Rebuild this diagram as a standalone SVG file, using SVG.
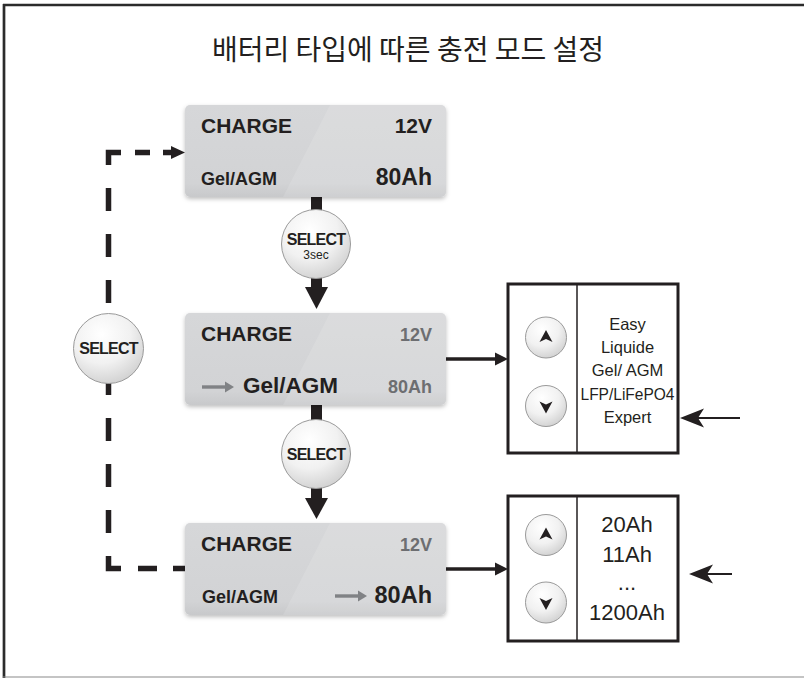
<svg xmlns="http://www.w3.org/2000/svg" width="804" height="678" viewBox="0 0 804 678">
<style>
text{font-family:"Liberation Sans",Arial,sans-serif;fill:#231f20}
.title{font-family:"Noto Sans CJK KR","Noto Sans",sans-serif;font-size:28px;text-anchor:middle}
.b{font-weight:bold}
.big{font-size:21px;font-weight:bold}
.r{text-anchor:end}
.g{fill:#6d6e71}
.c{text-anchor:middle}
.sel{font-size:16px;font-weight:bold;text-anchor:middle;letter-spacing:-0.8px}
.lst{font-size:16.5px;text-anchor:middle}
.ah{font-size:22px;text-anchor:middle}
.panel{fill:url(#pg);filter:url(#sh)}
.gloss{fill:#fff;opacity:0.12}
.btn{fill:url(#cg);stroke:#9a9a9a;stroke-width:1}
.box{fill:#fff;stroke:#231f20;stroke-width:3}
.div{stroke:#231f20;stroke-width:1.5}
.dash{fill:none;stroke:#231f20;stroke-width:5.5;stroke-linecap:butt}
.ink{fill:#231f20}
.garr{fill:#808285}
</style>
<defs>
<linearGradient id="pg" x1="0" y1="0" x2="0" y2="1">
<stop offset="0" stop-color="#d6d7d9"/>
<stop offset="0.85" stop-color="#d2d3d5"/>
<stop offset="1" stop-color="#c8c9cb"/>
</linearGradient>
<radialGradient id="cg" cx="0.4" cy="0.3" r="0.75">
<stop offset="0" stop-color="#ffffff"/>
<stop offset="0.55" stop-color="#f1f1f1"/>
<stop offset="1" stop-color="#cfcfcf"/>
</radialGradient>
<filter id="sh" x="-10%" y="-10%" width="120%" height="130%">
<feDropShadow dx="0" dy="2" stdDeviation="2" flood-color="#000" flood-opacity="0.25"/>
</filter>
<clipPath id="pc"><rect x="0" y="0" width="261" height="92" rx="5"/></clipPath>
</defs>
<rect x="0" y="0" width="804" height="678" fill="#fff"/>
<g id="frame">
<line x1="3" y1="5" x2="804" y2="5" stroke="#2b2b2b" stroke-width="2.5"/>
<line x1="4" y1="4" x2="4" y2="678" stroke="#2b2b2b" stroke-width="2.7"/>
<line x1="3" y1="677" x2="804" y2="677" stroke="#8a8a8a" stroke-width="1.2"/>
</g>
<text class="title" x="408" y="60">배터리 타입에 따른 충전 모드 설정</text>

<g id="connectors">
<rect x="311" y="197" width="11" height="91" class="ink"/>
<polygon class="ink" points="305,287 328,287 316.5,309"/>
<rect x="311" y="405" width="11" height="94" class="ink"/>
<polygon class="ink" points="305,498 328,498 316.5,519"/>
<path class="dash" d="M121,152.5 H108.5 V165 M135,152.5 H150 M163,152.5 H172"/>
<polygon class="ink" points="171,146 185,152.5 171,159"/>
<path class="dash" d="M108.5,188 V211 M108.5,234 V257 M108.5,280 V303 M108.5,326 V349 M108.5,372 V395 M108.5,418 V441 M108.5,464 V487 M108.5,510 V533"/>
<path class="dash" d="M108.5,556 V568.5 H121 M138,568.5 H157 M173,568.5 H185"/>
<line x1="446" y1="359" x2="497" y2="359" stroke="#231f20" stroke-width="3.5"/>
<polygon class="ink" points="495,352.5 508,359 495,365.5"/>
<line x1="446" y1="569" x2="497" y2="569" stroke="#231f20" stroke-width="3.5"/>
<polygon class="ink" points="495,562.5 508,569 495,575.5"/>
<line x1="740" y1="418" x2="698" y2="418" stroke="#231f20" stroke-width="2"/>
<polygon class="ink" points="680,418 704,408.5 698,418 704,427.5"/>
<line x1="732" y1="574" x2="707" y2="574" stroke="#231f20" stroke-width="2"/>
<polygon class="ink" points="689,574 713,564.5 707,574 713,583.5"/>
</g>

<g id="panel1" transform="translate(185,105)">
<rect class="panel" x="0" y="0" width="261" height="92" rx="5"/>
<polygon class="gloss" clip-path="url(#pc)" points="145,0 261,0 261,92 98,92"/>
<text class="big" x="16" y="28">CHARGE</text>
<text class="big r" x="247" y="28">12V</text>
<text class="b" x="16" y="80" font-size="18">Gel/AGM</text>
<text class="b r" x="247" y="80" font-size="23">80Ah</text>
</g>

<g id="panel2" transform="translate(185,313)">
<rect class="panel" x="0" y="0" width="261" height="92" rx="5"/>
<polygon class="gloss" clip-path="url(#pc)" points="145,0 261,0 261,92 98,92"/>
<text class="big" x="16" y="28">CHARGE</text>
<text class="b r g" x="247" y="28" font-size="18">12V</text>
<rect class="garr" x="17" y="72.3" width="25" height="3.4"/>
<polygon class="garr" points="40,68.5 49,74 40,79.5"/>
<text class="b" x="58" y="80" font-size="22.5">Gel/AGM</text>
<text class="b r g" x="247" y="80" font-size="18">80Ah</text>
</g>

<g id="panel3" transform="translate(185,523)">
<rect class="panel" x="0" y="0" width="261" height="92" rx="5"/>
<polygon class="gloss" clip-path="url(#pc)" points="145,0 261,0 261,92 98,92"/>
<text class="big" x="16" y="28">CHARGE</text>
<text class="b r g" x="247" y="28" font-size="18">12V</text>
<text class="b" x="17" y="80" font-size="18">Gel/AGM</text>
<rect class="garr" x="150" y="71.3" width="25" height="3.4"/>
<polygon class="garr" points="173,67.5 182,73 173,78.5"/>
<text class="b r" x="247" y="80" font-size="23.5">80Ah</text>
</g>

<g id="select-3sec">
<circle class="btn" cx="316" cy="244" r="34.5"/>
<text class="sel" x="316" y="244.5">SELECT</text>
<text x="316" y="258.5" font-size="12" text-anchor="middle">3sec</text>
</g>
<g id="select-mid">
<circle class="btn" cx="316" cy="454" r="34.5"/>
<text class="sel" x="316" y="460">SELECT</text>
</g>
<g id="select-left">
<circle class="btn" cx="108.5" cy="348.5" r="35"/>
<text class="sel" x="108.5" y="354">SELECT</text>
</g>

<g id="box-type">
<rect class="box" x="508" y="284" width="170" height="169"/>
<line class="div" x1="577" y1="284" x2="577" y2="453"/>
<circle class="btn" cx="546" cy="337.5" r="20.5"/>
<polygon class="ink" points="546,330 552.5,342 546,339 539.5,342"/>
<circle class="btn" cx="546" cy="406" r="20.5"/>
<polygon class="ink" points="546,413.5 552.5,401.5 546,404.5 539.5,401.5"/>
<text class="lst" x="627.5" y="330">Easy</text>
<text class="lst" x="627.5" y="353">Liquide</text>
<text class="lst" x="627.5" y="376">Gel/ AGM</text>
<text class="lst" x="627.5" y="400" textLength="94" lengthAdjust="spacingAndGlyphs">LFP/LiFePO4</text>
<text class="lst" x="627.5" y="423">Expert</text>
</g>

<g id="box-capacity">
<rect class="box" x="508" y="496" width="170" height="145"/>
<line class="div" x1="577" y1="496" x2="577" y2="641"/>
<circle class="btn" cx="546" cy="535" r="20.5"/>
<polygon class="ink" points="546,527.5 552.5,539.5 546,536.5 539.5,539.5"/>
<circle class="btn" cx="546" cy="602.5" r="20.5"/>
<polygon class="ink" points="546,610 552.5,598 546,601 539.5,598"/>
<text class="ah" x="627" y="532">20Ah</text>
<text class="ah" x="627" y="562">11Ah</text>
<text class="ah" x="627" y="590">...</text>
<text class="ah" x="627" y="620">1200Ah</text>
</g>
</svg>
